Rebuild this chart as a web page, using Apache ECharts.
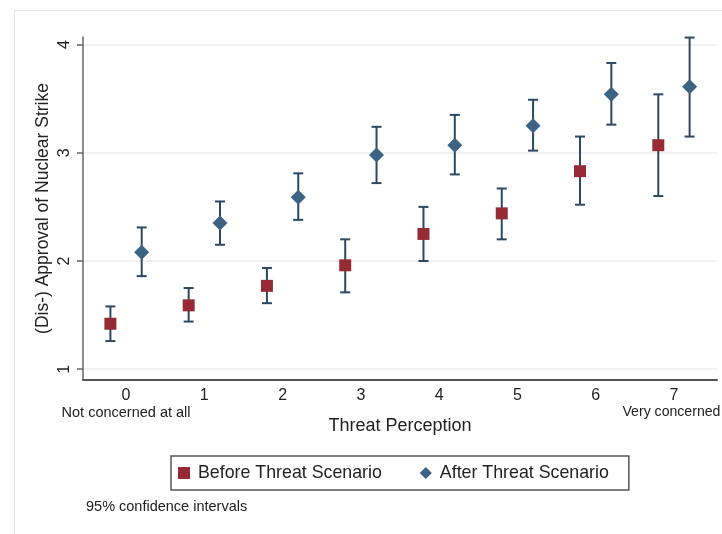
<!DOCTYPE html>
<html>
<head>
<meta charset="utf-8">
<script src="https://cdn.jsdelivr.net/npm/echarts@6/dist/echarts.min.js"></script>
<style>
html,body{margin:0;padding:0;background:#fff;}
#chart{width:722px;height:534px;}
</style>
</head>
<body>
<div id="chart"></div>
<script>
// ---- Data ----
var categories = [0, 1, 2, 3, 4, 5, 6, 7];
var xTickLabels = ['0\nNot concerned at all', '1', '2', '3', '4', '5', '6', '7\nVery concerned'];
var yTicks = [1, 2, 3, 4];

var beforeMean = [1.42, 1.59, 1.77, 1.96, 2.25, 2.44, 2.83, 3.07];
var beforeLo   = [1.26, 1.44, 1.61, 1.71, 2.00, 2.20, 2.52, 2.60];
var beforeHi   = [1.58, 1.75, 1.935, 2.20, 2.50, 2.67, 3.15, 3.54];

var afterMean  = [2.08, 2.35, 2.59, 2.98, 3.07, 3.25, 3.54, 3.61];
var afterLo    = [1.86, 2.15, 2.38, 2.72, 2.80, 3.02, 3.26, 3.15];
var afterHi    = [2.31, 2.55, 2.81, 3.24, 3.35, 3.49, 3.83, 4.065];

// ---- Chart ----
var FONT = '"Liberation Sans", Arial, Helvetica, sans-serif';
var BEFORE_COLOR = '#962a35';
var AFTER_COLOR = '#3c6384';
var CI_COLOR = '#2c4862';
var OFFSET = 0.2;

function ciRender(params, api) {
  var x = api.value(0), lo = api.value(1), hi = api.value(2);
  var pLo = api.coord([x, lo]);
  var pHi = api.coord([x, hi]);
  var w = 5;
  var st = { stroke: CI_COLOR, lineWidth: 2 };
  return {
    type: 'group',
    children: [
      { type: 'line', shape: { x1: pLo[0], y1: pLo[1], x2: pHi[0], y2: pHi[1] }, style: st },
      { type: 'line', shape: { x1: pHi[0] - w, y1: pHi[1], x2: pHi[0] + w, y2: pHi[1] }, style: st },
      { type: 'line', shape: { x1: pLo[0] - w, y1: pLo[1], x2: pLo[0] + w, y2: pLo[1] }, style: st }
    ]
  };
}

var chart = echarts.init(document.getElementById('chart'), null, { renderer: 'canvas' });

var option = {
  backgroundColor: '#ffffff',
  animation: false,
  textStyle: { fontFamily: FONT },
  grid: { left: 83, top: 37, right: 5, bottom: 154, containLabel: false, outerBoundsMode: 'none' },
  graphic: [
    {
      type: 'rect', left: 12, top: 8, silent: true, z: -10,
      shape: { width: 740, height: 560 },
      style: { fill: 'none', stroke: '#e4e4e4', lineWidth: 1 }
    },
    {
      type: 'text', left: 86, top: 499,
      style: { text: '95% confidence intervals', fontSize: 14.5, fontFamily: FONT, fill: '#222' }
    }
  ],
  legend: {
    left: 171, top: 456,
    orient: 'horizontal',
    padding: [8, 20, 8, 7],
    borderColor: '#555', borderWidth: 1.5,
    itemWidth: 12, itemHeight: 12, itemGap: 38,
    textStyle: { fontSize: 17.8, fontFamily: FONT, color: '#222', padding: [0, 0, 0, 3] },
    data: [
      { name: 'Before Threat Scenario', icon: 'rect', itemStyle: { color: BEFORE_COLOR } },
      { name: 'After Threat Scenario', icon: 'diamond', itemStyle: { color: AFTER_COLOR } }
    ]
  },
  xAxis: {
    type: 'value',
    min: -0.55, max: 7.55,
    name: 'Threat Perception',
    nameLocation: 'middle',
    nameGap: 37,
    nameMoveOverlap: false,
    nameTextStyle: { fontSize: 18, fontFamily: FONT, color: '#222' },
    axisLine: { show: true, onZero: false, lineStyle: { color: '#555', width: 2 } },
    axisTick: { show: false, customValues: categories },
    splitLine: { show: false },
    axisLabel: {
      customValues: categories,
      margin: 7,
      formatter: function (v) {
        var i = categories.indexOf(v);
        var s = xTickLabels[i] || '';
        var parts = s.split('\n');
        if (parts.length > 1) return '{a|' + parts[0] + '}\n{' + (i === 0 ? 'b' : 'c') + '|' + parts[1] + '}';
        return '{a|' + parts[0] + '}';
      },
      rich: {
        a: { fontSize: 16, fontFamily: FONT, color: '#222', lineHeight: 17 },
        b: { fontSize: 14.5, fontFamily: FONT, color: '#222', lineHeight: 17 },
        c: { fontSize: 14.1, fontFamily: FONT, color: '#222', lineHeight: 17, padding: [0, 5, 0, 0] }
      }
    }
  },
  yAxis: {
    type: 'value',
    min: 0.9, max: 4.07,
    name: '(Dis-) Approval of Nuclear Strike',
    nameLocation: 'middle',
    nameRotate: 90,
    nameGap: 31,
    nameMoveOverlap: false,
    nameTextStyle: { fontSize: 17.5, fontFamily: FONT, color: '#222' },
    axisLine: { show: true, onZero: false, lineStyle: { color: '#666', width: 1.5 } },
    axisTick: { show: true, length: 6, customValues: yTicks, lineStyle: { color: '#666', width: 1.5 } },
    axisLabel: {
      customValues: yTicks, rotate: 90, margin: 10,
      fontSize: 16, fontFamily: FONT, color: '#222'
    },
    splitLine: { show: true, lineStyle: { color: '#ebebeb', width: 1.5 } }
  },
  series: [
    {
      name: 'ciBefore', type: 'custom', renderItem: ciRender, z: 2,
      encode: { x: 0, y: [1, 2] },
      data: categories.map(function (c, i) { return [c - OFFSET, beforeLo[i], beforeHi[i]]; })
    },
    {
      name: 'ciAfter', type: 'custom', renderItem: ciRender, z: 2,
      encode: { x: 0, y: [1, 2] },
      data: categories.map(function (c, i) { return [c + OFFSET, afterLo[i], afterHi[i]]; })
    },
    {
      name: 'Before Threat Scenario', type: 'scatter', symbol: 'rect', symbolSize: 12, z: 3,
      itemStyle: { color: BEFORE_COLOR, opacity: 1 },
      data: categories.map(function (c, i) { return [c - OFFSET, beforeMean[i]]; })
    },
    {
      name: 'After Threat Scenario', type: 'scatter', symbol: 'diamond', symbolSize: 15, z: 3,
      itemStyle: { color: AFTER_COLOR, opacity: 1 },
      data: categories.map(function (c, i) { return [c + OFFSET, afterMean[i]]; })
    }
  ]
};
chart.setOption(option);
</script>
</body>
</html>
